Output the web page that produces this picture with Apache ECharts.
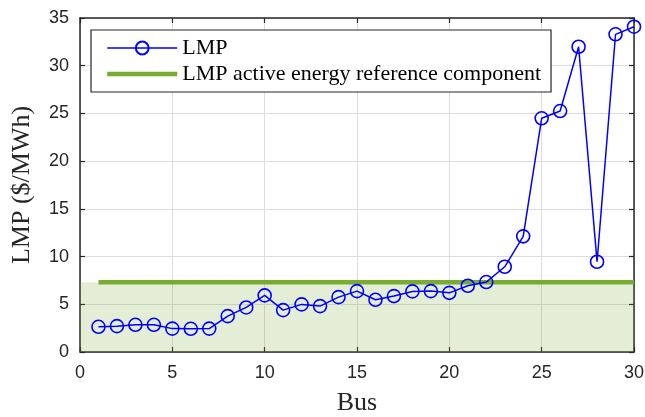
<!DOCTYPE html>
<html>
<head>
<meta charset="utf-8">
<script src="https://cdn.jsdelivr.net/npm/echarts@6/dist/echarts.min.js"></script>
<style>html,body{margin:0;padding:0;background:#fff}#c{width:645px;height:417px}</style>
</head>
<body>
<div id="c"></div>
<script>
const buses = [1,2,3,4,5,6,7,8,9,10,11,12,13,14,15,16,17,18,19,20,21,22,23,24,25,26,27,28,29,30];
const lmp = [2.64,2.71,2.85,2.85,2.45,2.43,2.45,3.76,4.67,5.93,4.39,4.99,4.81,5.75,6.38,5.47,5.86,6.35,6.38,6.20,6.94,7.33,8.93,12.12,24.49,25.25,31.99,9.46,33.29,34.09];
const refComponent = [7.32,7.32,7.32,7.32,7.32,7.32,7.32,7.32,7.32,7.32,7.32,7.32,7.32,7.32,7.32,7.32,7.32,7.32,7.32,7.32,7.32,7.32,7.32,7.32,7.32,7.32,7.32,7.32,7.32,7.32];
const shadeX = [0, 30];
const shadeY = [0, 7.32];
const xTicks = [0,5,10,15,20,25,30];
const yTicks = [0,5,10,15,20,25,30,35];
const seriesNames = ['LMP', 'LMP active energy reference component'];

const axisColor = '#262626';
const chart = echarts.init(document.getElementById('c'), null, {renderer: 'canvas'});
const baseX = {
  type: 'value', min: xTicks[0], max: xTicks[xTicks.length-1], interval: 5
};
const baseY = {
  type: 'value', min: yTicks[0], max: yTicks[yTicks.length-1], interval: 5
};
chart.setOption({
  animation: false,
  grid: {left: 80, right: 11, top: 18, bottom: 65, containLabel: false, outerBoundsMode: 'none'},
  legend: {
    orient: 'vertical', left: 91, top: 30,
    data: [
      {name: seriesNames[0], lineStyle: {width: 1.6}},
      {name: seriesNames[1], itemStyle: {opacity: 0}, lineStyle: {width: 4.5}}
    ],
    itemWidth: 70, itemHeight: 16, itemGap: 4,
    padding: [7, 10, 7, 14],
    backgroundColor: '#fff',
    borderColor: axisColor, borderWidth: 1.2,
    textStyle: {fontFamily: 'Liberation Serif', fontSize: 22, color: '#000', lineHeight: 22}
  },
  xAxis: [
    Object.assign({}, baseX, {
      position: 'bottom',
      name: 'Bus', nameLocation: 'middle', nameGap: 38,
      nameTextStyle: {fontFamily: 'Liberation Serif', fontSize: 26, color: axisColor},
      axisLine: {show: true, onZero: false, lineStyle: {color: axisColor, width: 1.5}},
      axisTick: {show: true, inside: true, length: 5, lineStyle: {color: axisColor, width: 1.2}},
      axisLabel: {fontFamily: 'Liberation Sans', fontSize: 18, color: axisColor, margin: 12},
      splitLine: {show: true, lineStyle: {color: '#dcdcdc', width: 1}}
    }),
    Object.assign({}, baseX, {
      position: 'top',
      axisLine: {show: true, onZero: false, lineStyle: {color: axisColor, width: 1.5}},
      axisTick: {show: true, inside: true, length: 5, lineStyle: {color: axisColor, width: 1.2}},
      axisLabel: {show: false}, splitLine: {show: false}
    })
  ],
  yAxis: [
    Object.assign({}, baseY, {
      position: 'left',
      name: 'LMP ($/MWh)', nameLocation: 'middle', nameGap: 45, nameRotate: 90,
      nameTextStyle: {fontFamily: 'Liberation Serif', fontSize: 26, color: axisColor},
      axisLine: {show: true, onZero: false, lineStyle: {color: axisColor, width: 1.5}},
      axisTick: {show: true, inside: true, length: 5, lineStyle: {color: axisColor, width: 1.2}},
      axisLabel: {fontFamily: 'Liberation Sans', fontSize: 18, color: axisColor, margin: 11},
      splitLine: {show: true, lineStyle: {color: '#dcdcdc', width: 1}}
    }),
    Object.assign({}, baseY, {
      position: 'right',
      axisLine: {show: true, onZero: false, lineStyle: {color: axisColor, width: 1.5}},
      axisTick: {show: true, inside: true, length: 5, lineStyle: {color: axisColor, width: 1.2}},
      axisLabel: {show: false}, splitLine: {show: false}
    })
  ],
  series: [
    {
      name: seriesNames[1], type: 'line', xAxisIndex: 0, yAxisIndex: 0,
      data: buses.map((b, i) => [b, refComponent[i]]),
      showSymbol: false, symbol: 'none',
      lineStyle: {color: '#77ac30', width: 4.5},
      itemStyle: {color: '#77ac30'},
      z: 2,
      markArea: {
        silent: true,
        itemStyle: {color: 'rgba(119,172,48,0.2)'},
        data: [[{coord: [shadeX[0], shadeY[0]]}, {coord: [shadeX[1], shadeY[1]]}]]
      }
    },
    {
      name: seriesNames[0], type: 'line', xAxisIndex: 0, yAxisIndex: 0,
      data: buses.map((b, i) => [b, lmp[i]]),
      symbol: 'circle', symbolSize: 13,
      lineStyle: {color: '#0000ff', width: 1.5},
      itemStyle: {color: 'rgba(0,0,255,0)', borderColor: '#0000ff', borderWidth: 1.6},
      z: 3
    }
  ]
});
</script>
</body>
</html>
